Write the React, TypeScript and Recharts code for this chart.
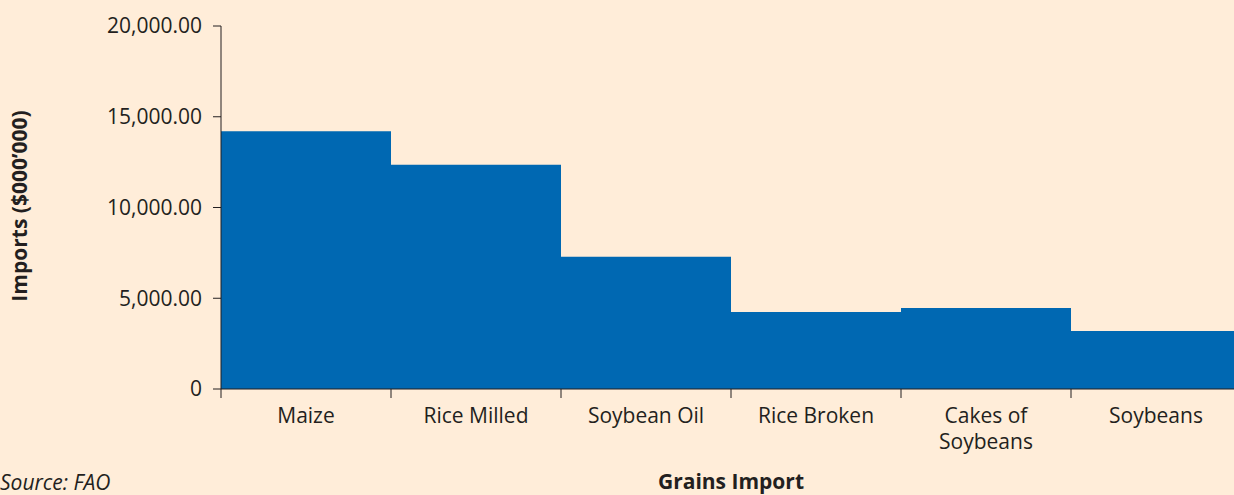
import { BarChart, Bar, XAxis, YAxis } from 'recharts';

const categories = ['Maize', 'Rice Milled', 'Soybean Oil', 'Rice Broken', 'Cakes of Soybeans', 'Soybeans'];
const imports = [14200, 12350, 7280, 4240, 4460, 3200];
const yTicks = [0, 5000, 10000, 15000, 20000];

const data = categories.map((name, i) => ({ name, value: imports[i] }));

const W = 1250;
const H = 495;
const LEFT = 221;
const RIGHT = 9;
const band = (W - LEFT - RIGHT) / categories.length;
const ink = '#231f20';
const font = '"Open Sans", sans-serif';

const fmt = (v: number) => (v === 0 ? '0' : v.toLocaleString('en-US', { minimumFractionDigits: 2 }));

// wraps long names onto two lines and draws the boundary tick to the left of each band
const XTick = (props: any) => {
  const { x, y, payload } = props;
  const words = String(payload.value).split(' ');
  const lines = words.length > 2 ? [words.slice(0, 2).join(' '), words.slice(2).join(' ')] : [payload.value];
  const left = x - band / 2;
  return (
    <g>
      <line x1={left} y1={y - 8} x2={left} y2={y + 1} stroke={ink} strokeWidth={1} />
      <text x={x} y={y + 26} textAnchor="middle" fill={ink} fontSize={21} fontFamily={font}>
        {lines.map((l, i) => (
          <tspan key={i} x={x} dy={i === 0 ? 0 : 26}>{l}</tspan>
        ))}
      </text>
    </g>
  );
};

export default function App() {
  return (
    <div style={{ position: 'fixed', left: 0, top: 0, width: 1234, height: H, overflow: 'hidden', background: '#ffedd9' }}>
      <BarChart width={W} height={H} data={data} margin={{ top: 26, right: RIGHT, left: 0, bottom: 0 }} barCategoryGap={0}>
        <XAxis
          dataKey="name"
          height={H - 389 - 26 + 26}
          axisLine={{ stroke: ink }}
          tickLine={false}
          interval={0}
          tick={<XTick />}
          label={() => (
            <text x={(LEFT + W - RIGHT) / 2} y={489} textAnchor="middle" fill={ink} fontSize={21} fontWeight={700} fontFamily={font}>
              Grains Import
            </text>
          )}
        />
        <YAxis
          width={LEFT}
          domain={[0, 20000]}
          ticks={yTicks}
          tickFormatter={fmt}
          axisLine={{ stroke: ink }}
          tickLine={{ stroke: ink }}
          tickSize={8}
          tickMargin={11}
          tick={{ fill: ink, fontSize: 21, fontFamily: font }}
          label={() => (
            <text x={19} y={206} transform="rotate(-90, 19, 206)" textAnchor="middle" dominantBaseline="central" fill={ink} fontSize={21} fontWeight={700} fontFamily={font}>
              Imports ($000’000)
            </text>
          )}
        />
        <Bar dataKey="value" fill="#0068b2" isAnimationActive={false} />
      </BarChart>
      <div style={{ position: 'absolute', left: 0, top: 471, fontFamily: font, fontStyle: 'italic', fontSize: 21, color: ink, lineHeight: '22px' }}>
        Source: FAO
      </div>
    </div>
  );
}
